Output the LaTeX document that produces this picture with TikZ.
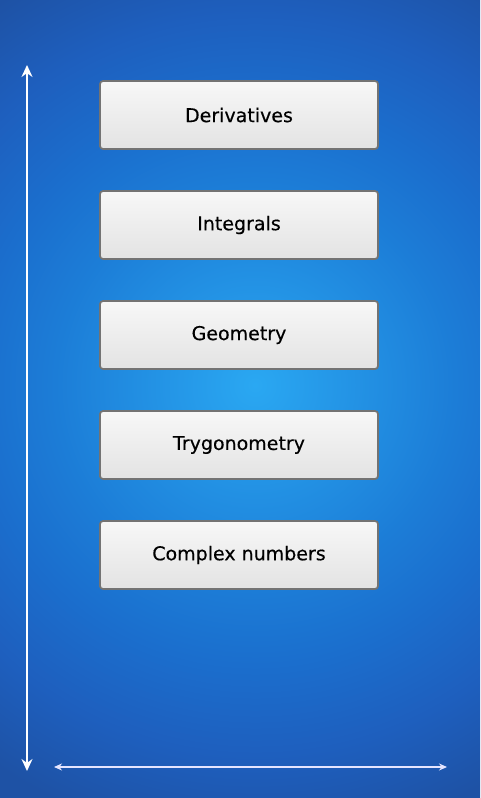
\documentclass[tikz,border=0pt]{standalone}
\usepackage{fontspec}
\setmainfont{DejaVu Sans}[FakeBold=0.4]
\usetikzlibrary{positioning,arrows.meta}
\definecolor{bgA}{RGB}{42,168,242}
\definecolor{bgB}{RGB}{28,125,215}
\definecolor{bgC}{RGB}{27,110,205}
\definecolor{bgD}{RGB}{30,95,190}
\definecolor{bgE}{RGB}{30,82,165}
\pgfdeclareradialshading{bgglow}{\pgfpoint{0bp}{0bp}}{color(0bp)=(bgA); color(10bp)=(bgB); color(14bp)=(bgC); color(18.5bp)=(bgD); color(23bp)=(bgE); color(50bp)=(bgE)}
\begin{document}
\begin{tikzpicture}[x=1pt,y=-1pt,
    topic/.style={draw=black!55,line width=1.8pt,rounded corners=3pt,
      top color=black!3,bottom color=black!11,
      minimum width=278pt,minimum height=68pt,inner sep=0pt,
      font=\fontsize{19}{23}\selectfont},
    axis/.style={white,line width=1.8pt,{Stealth[length=12pt,width=11pt]}-{Stealth[length=12pt,width=11pt]}},
    taxis/.style={white!90!blue,line width=1.4pt,{Stealth[length=8pt,width=7pt]}-{Stealth[length=8pt,width=7pt]}}]
  \useasboundingbox (0,0) rectangle (480,798);
  % background
  \begin{scope}
    \clip (0,0) rectangle (480,798);
    \shade[shading=bgglow] (255,385) circle (500);
  \end{scope}
  % topics
  \node[topic] (deriv) at (239,115) {Derivatives};
  \node[topic,below=40.2pt of deriv] (integ) {Integrals};
  \node[topic,below=40.2pt of integ] (geom) {Geometry};
  \node[topic,below=40.2pt of geom] (trig) {Trygonometry};
  \node[topic,below=40.2pt of trig] (cplx) {Complex numbers};
  % axes
  \coordinate (vtop) at (27,65);
  \coordinate (vbot) at (27,771);
  \coordinate (hleft) at (54,767);
  \coordinate (hright) at (447,767);
  \draw[axis] (vbot) -- (vtop);
  \draw[taxis] (hleft) -- (hright);
\end{tikzpicture}
\end{document}
